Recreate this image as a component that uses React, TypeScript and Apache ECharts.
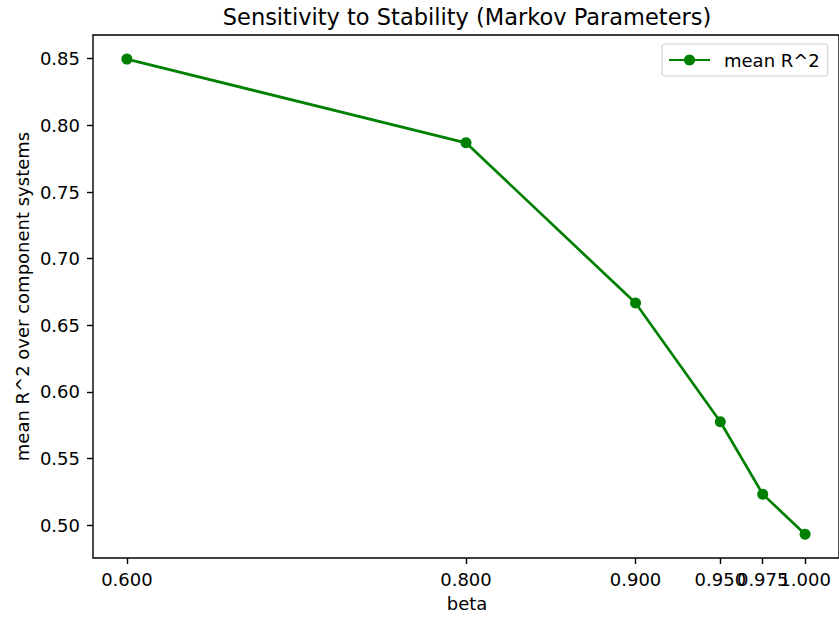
import React, { useEffect, useRef } from "react";
import * as echarts from "echarts";

const betaValues = [0.6, 0.8, 0.9, 0.95, 0.975, 1.0];
const meanR2 = [0.8497, 0.7869, 0.6667, 0.5776, 0.5233, 0.4932];
const xTicks = [0.6, 0.8, 0.9, 0.95, 0.975, 1.0];
const xTicksMain = [0.6, 0.8, 0.9, 0.95, 1.0];
const xTicksExtra = [0.975];
const yTicks = [0.5, 0.55, 0.6, 0.65, 0.7, 0.75, 0.8, 0.85];
const titleText = "Sensitivity to Stability (Markov Parameters)";
const xLabel = "beta";
const yLabel = "mean R^2 over component systems";
const seriesName = "mean R^2";

const FONT = "'DejaVu Sans', sans-serif";

export default function App() {
  const ref = useRef<HTMLDivElement>(null);
  useEffect(() => {
    if (!ref.current) return;
    const chart = echarts.init(ref.current, null, { renderer: "svg" });
    const tickStyle = { color: "#000", width: 1.4 };
    const labelBase = {
      formatter: (v: number) => v.toFixed(3),
      margin: 12,
      color: "#000",
      fontFamily: FONT,
      fontSize: 18,
      showMinLabel: true,
      showMaxLabel: true,
      hideOverlap: false,
    };
    chart.setOption({
      animation: false,
      backgroundColor: "#fff",
      grid: {
        left: 93,
        top: 35,
        width: 748,
        height: 523,
        show: true,
        borderColor: "#000",
        borderWidth: 1.4,
        backgroundColor: "transparent",
      },
      xAxis: [
        {
          type: "value",
          position: "bottom",
          min: 0.58,
          max: 1.02,
          axisLine: { show: false },
          splitLine: { show: false },
          axisTick: {
            show: true,
            length: 6,
            inside: false,
            customValues: xTicks,
            lineStyle: tickStyle,
          },
          axisLabel: { ...labelBase, customValues: xTicksMain },
        },
        {
          type: "value",
          position: "bottom",
          offset: 0,
          min: 0.58,
          max: 1.02,
          axisLine: { show: false },
          splitLine: { show: false },
          axisTick: { show: false },
          axisLabel: { ...labelBase, customValues: xTicksExtra },
        },
      ],
      yAxis: {
        type: "value",
        min: 0.4754,
        max: 0.8678,
        axisLine: { show: false },
        splitLine: { show: false },
        axisTick: {
          show: true,
          length: 6,
          inside: false,
          customValues: yTicks,
          lineStyle: tickStyle,
        },
        axisLabel: {
          customValues: yTicks,
          formatter: (v: number) => v.toFixed(2),
          margin: 13,
          color: "#000",
          fontFamily: FONT,
          fontSize: 18,
          showMinLabel: true,
          showMaxLabel: true,
        },
      },
      legend: {
        left: 662,
        top: 44,
        orient: "vertical",
        itemWidth: 41,
        itemHeight: 14,
        padding: [7, 8, 7, 6],
        borderColor: "#cccccc",
        borderWidth: 1,
        borderRadius: 3,
        backgroundColor: "rgba(255,255,255,0.8)",
        textStyle: {
          color: "#000",
          fontFamily: FONT,
          fontSize: 18,
          padding: [0, 0, 0, 9],
        },
        data: [seriesName],
      },
      graphic: [
        {
          type: "text",
          style: {
            text: titleText,
            x: 467,
            y: 16.5,
            textAlign: "center",
            textVerticalAlign: "middle",
            align: "center",
            verticalAlign: "middle",
            fill: "#000",
            font: `22.5px ${FONT}`,
          },
        },
        {
          type: "text",
          style: {
            text: xLabel,
            x: 467,
            y: 603.8,
            textAlign: "center",
            textVerticalAlign: "middle",
            align: "center",
            verticalAlign: "middle",
            fill: "#000",
            font: `18px ${FONT}`,
          },
        },
        {
          type: "text",
          x: 22,
          y: 296.5,
          rotation: Math.PI / 2,
          style: {
            text: yLabel,
            x: 0,
            y: 0,
            textAlign: "center",
            textVerticalAlign: "middle",
            align: "center",
            verticalAlign: "middle",
            fill: "#000",
            font: `18px ${FONT}`,
          },
        },
      ],
      series: [
        {
          name: seriesName,
          type: "line",
          xAxisIndex: 0,
          data: betaValues.map((b, i) => [b, meanR2[i]]),
          symbol: "circle",
          symbolSize: 11,
          showSymbol: true,
          lineStyle: { color: "#008000", width: 2.7 },
          itemStyle: { color: "#008000" },
          emphasis: { disabled: true },
        },
      ],
    });
    return () => chart.dispose();
  }, []);
  return (
    <div
      ref={ref}
      style={{ position: "absolute", left: 0, top: 0, width: 839, height: 618 }}
    />
  );
}
